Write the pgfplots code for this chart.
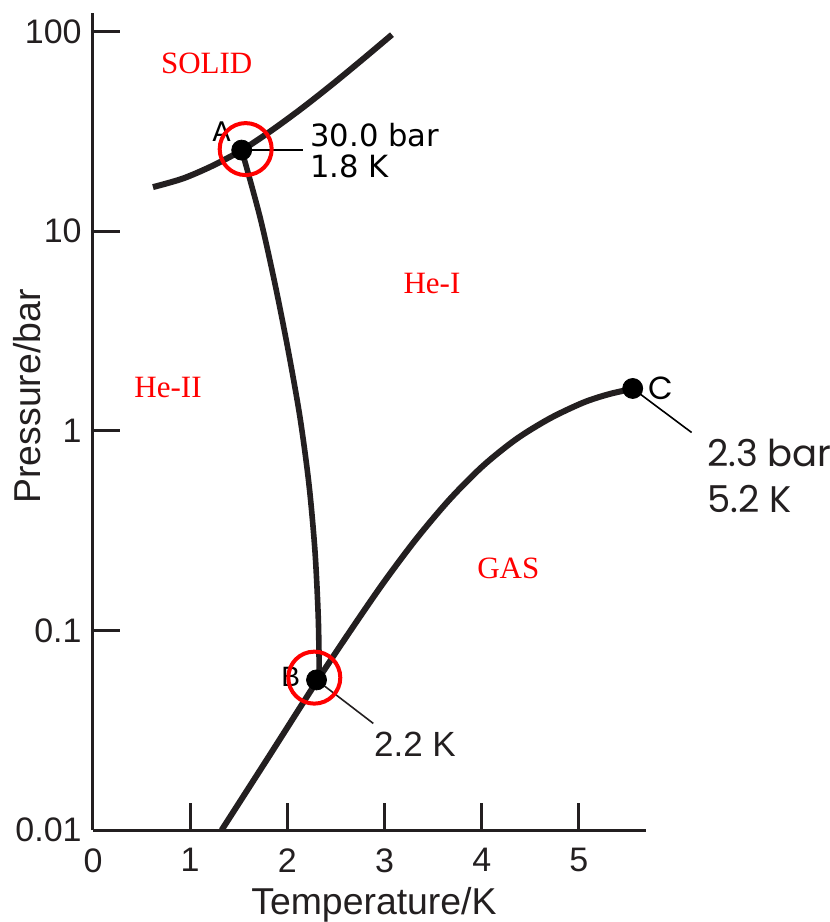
\documentclass[border=0pt]{standalone}
\usepackage{fontspec}
\setmainfont{Liberation Sans}
\newfontfamily\seriffont{Liberation Serif}
\newfontfamily\dejavu{DejaVu Sans}
\newfontfamily\pop{Poppins}
\usepackage{pgfplots}
\pgfplotsset{compat=1.18}
\definecolor{ink}{HTML}{231F20}
\definecolor{lab}{HTML}{FF0000}
\begin{document}
\begin{tikzpicture}
\begin{axis}[
  at={(0,0)}, anchor=south west,
  scale only axis, width=276.5pt, height=408.5pt,
  ymode=log, xmin=0, xmax=5.69, ymin=0.01, ymax=124,
  clip=false,
  axis x line*=bottom, axis y line*=left,
  axis line style={ink, line width=1.5pt},
  every tick/.style={ink, line width=1.5pt},
  tick align=inside, major tick length=13.5pt,
  xtick={0,1,2,3,4,5}, xticklabels={0,1,2,3,4,5},
  ytick={0.01,0.1,1,10,100}, yticklabels={0.01,0.1,1,10,100},
  yminorticks=false, xminorticks=false,
  ticklabel style={font=\fontsize{17pt}{20pt}\selectfont, text=ink, inner sep=0pt},
  yticklabel style={xshift=-5.5pt},
  xticklabel style={yshift=-9pt},
  xlabel={Temperature/K}, ylabel={Pressure/bar},
  label style={font=\fontsize{18.7pt}{22pt}\selectfont, text=ink, inner sep=0pt},
  xlabel style={at={(axis description cs:0.508,-0.0918)}, anchor=center},
  ylabel style={at={(axis description cs:-0.1184,0.5306)}, anchor=center, rotate=0},
]
% melting curve (solid / liquid)
\addplot[ink, line width=3pt, smooth] coordinates {
 (0.617,16.64) (0.926,18.38) (1.235,21.34) (1.543,25.68) (1.852,32.36) (2.160,41.70) (2.469,54.79) (2.778,72.91) (3.076,96.6)};
% lambda line
\addplot[ink, line width=2.8pt, smooth] coordinates {
 (1.53,25.5) (1.718,11.8) (1.872,5.46) (2.009,2.52) (2.130,1.166) (2.222,0.540) (2.284,0.2494) (2.318,0.1153) (2.328,0.0600)};
% vapour pressure curve
\addplot[ink, line width=3pt, smooth] coordinates {
 (1.324,0.0100) (1.813,0.02349) (2.301,0.05541) (2.644,0.0989) (2.987,0.1729) (3.330,0.2889) (3.673,0.4552) (4.015,0.6692) (4.359,0.9117) (4.702,1.155) (5.044,1.385) (5.301,1.523) (5.553,1.625)};
% leader lines
\addplot[black, line width=0.8pt] coordinates {(1.53,25.5) (2.163,25.5)};
\addplot[ink, line width=0.8pt] coordinates {(2.30,0.0565) (2.884,0.0342)};
\addplot[black, line width=0.8pt] coordinates {(5.553,1.63) (6.159,0.981)};
% points A, B, C
\addplot[only marks, mark=*, mark size=5pt, mark options={fill=black, draw=black}] coordinates {(1.53,25.5) (2.30,0.0565) (5.553,1.63)};
% red circles
\addplot[only marks, mark=o, mark size=13pt, mark options={draw=lab, line width=2pt}] coordinates {(1.571,25.8) (2.277,0.058)};
% region labels
\node[text=lab, font=\seriffont\fontsize{15.5pt}{18pt}\selectfont] at (axis cs:1.170,69.6) {SOLID};
\node[text=lab, font=\seriffont\fontsize{15.5pt}{18pt}\selectfont] at (axis cs:3.488,5.45) {He-I};
\node[text=lab, font=\seriffont\fontsize{15.5pt}{18pt}\selectfont] at (axis cs:0.772,1.644) {He-II};
\node[text=lab, font=\seriffont\fontsize{15.5pt}{18pt}\selectfont] at (axis cs:4.273,0.2037) {GAS};
% point letters
\node[font=\dejavu\fontsize{13.5pt}{16pt}\selectfont] at (axis cs:1.324,31.6) {A};
\node[font=\fontsize{14pt}{16pt}\selectfont] at (axis cs:2.035,0.0587) {B};
\node[font=\pop\fontsize{16pt}{18pt}\selectfont] at (axis cs:5.844,1.626) {C};
% annotations
\node[anchor=west, inner sep=0pt, align=left, font=\dejavu\fontsize{15.3pt}{15.5pt}\selectfont] at (axis cs:2.233,25.3) {30.0 bar\\1.8 K};
\node[inner sep=0pt, text=ink, font=\fontsize{17.5pt}{20pt}\selectfont] at (axis cs:3.313,0.0269) {2.2 K};
\node[anchor=west, inner sep=0pt, align=left, text=ink, font=\pop\fontsize{18.5pt}{23pt}\selectfont] at (axis cs:6.314,0.597) {2.3 bar\\5.2 K};
\end{axis}
\pgfresetboundingbox
\path[use as bounding box] (-46.5pt,-46pt) rectangle (368.5pt,415pt);
\end{tikzpicture}
\end{document}
